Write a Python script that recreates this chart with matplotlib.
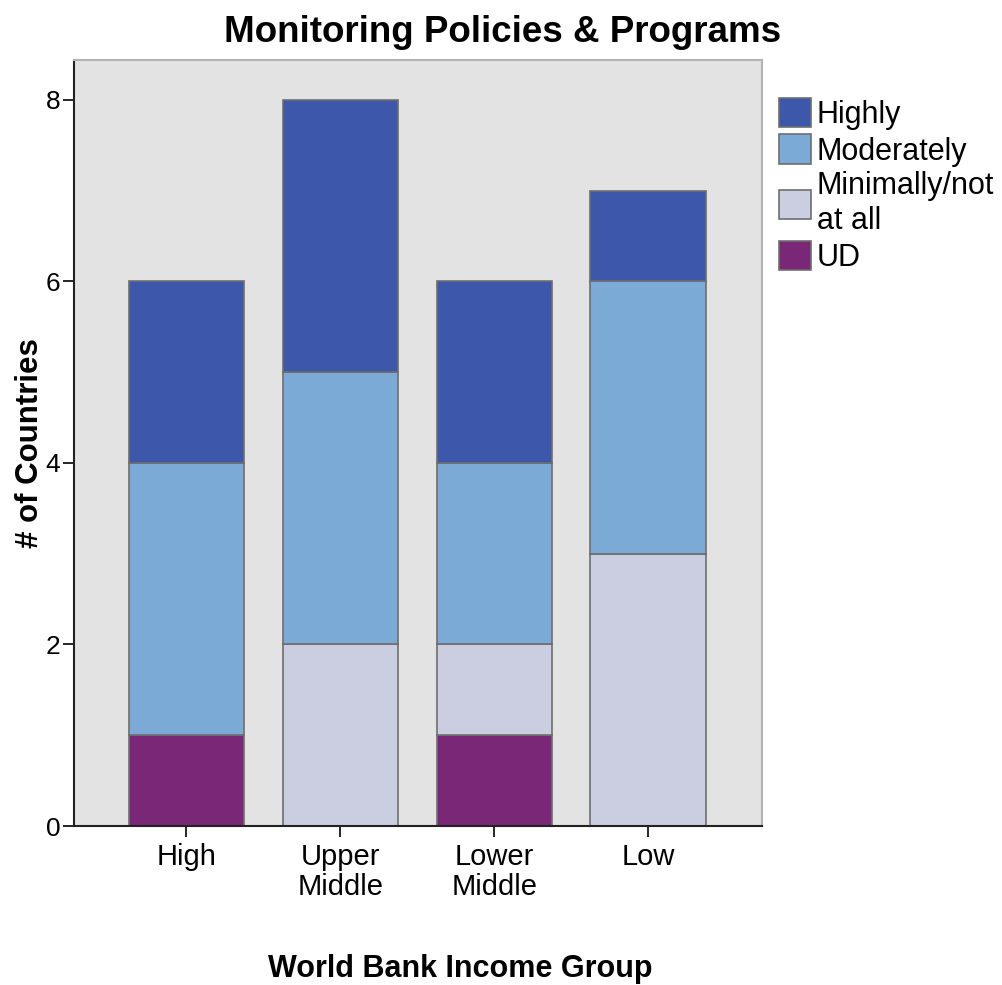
import numpy as np
import matplotlib
matplotlib.use('Agg')
import matplotlib.pyplot as plt

matplotlib.rcParams['font.family'] = ['Liberation Sans', 'DejaVu Sans']

# stacked counts per income group
groups = ['High', 'Upper\nMiddle', 'Lower\nMiddle', 'Low']
ud = [1, 0, 1, 0]
minimally = [0, 2, 1, 3]
moderately = [3, 3, 2, 3]
highly = [2, 3, 2, 1]

series = [
    ('UD', ud, '#7b2778'),
    ('Minimally/not\nat all', minimally, '#cbcde0'),
    ('Moderately', moderately, '#7baad6'),
    ('Highly', highly, '#3d58aa'),
]

fig = plt.figure(figsize=(10.02, 9.85), dpi=100)
ax = fig.add_axes([0.0739, 0.1614, 0.6866, 0.7777])
ax.set_facecolor('#e3e3e3')

index = np.arange(len(groups))
bottom = np.zeros(len(groups))
handles = []
for label, vals, color in series:
    bars = ax.bar(index, vals, 0.75, bottom=bottom, color=color,
                  edgecolor='#6e6e6e', linewidth=1.2, label=label)
    handles.append(bars)
    bottom += np.array(vals)

ax.set_xlim(-0.73, 3.74)
ax.set_ylim(0, 8.44)
ax.set_yticks([0, 2, 4, 6, 8])
ax.set_xticks(index)
ax.set_xticklabels(groups, fontsize=21, linespacing=1.1)
ax.tick_params(axis='y', labelsize=19, length=8, width=1.2, pad=2)
ax.tick_params(axis='x', length=8, width=1.2, pad=4)

for side in ['left', 'bottom']:
    ax.spines[side].set_color('#222222')
    ax.spines[side].set_linewidth(1.5)
for side in ['top', 'right']:
    ax.spines[side].set_color('#b4b4b4')
    ax.spines[side].set_linewidth(1.5)

fig.text(0.502, 0.957, 'Monitoring Policies & Programs', fontsize=26.5,
         fontweight='bold', ha='center', va='baseline')
ax.set_ylabel('# of Countries', fontsize=22.5, fontweight='bold', labelpad=0)
fig.text(0.459, 0.008, 'World Bank Income Group', fontsize=22,
         fontweight='bold', ha='center', va='baseline')

leg = ax.legend(handles[::-1], [s[0] for s in series][::-1],
                loc='upper left', bbox_to_anchor=(1.024, 0.951),
                frameon=False, fontsize=22, handlelength=1.05, handleheight=1.1,
                handletextpad=0.2, labelspacing=0.16, borderaxespad=0,
                borderpad=0)

plt.savefig('out.png', dpi=100, facecolor='white')
